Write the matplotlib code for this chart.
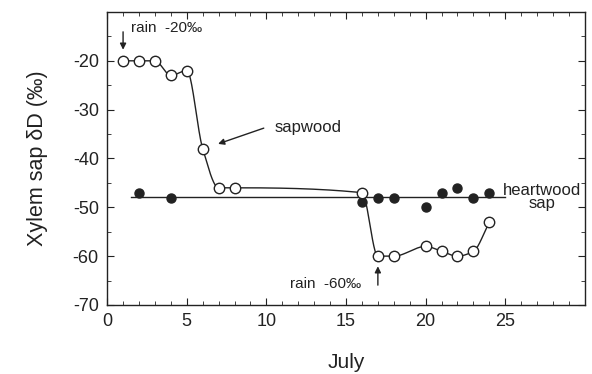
#!/usr/bin/env python3
# Xylem sap dD after two rain events (sapwood vs heartwood)

import numpy as np
import matplotlib.pyplot as plt
from matplotlib.ticker import MultipleLocator

plt.rcParams['font.family'] = ['Liberation Sans', 'DejaVu Sans']
plt.rcParams['axes.unicode_minus'] = False

# sapwood sap (open circles)
sap_day = [1, 2, 3, 4, 5, 6, 7, 8, 16, 17, 18, 20, 21, 22, 23, 24]
sap_dD = [-20, -20, -20, -23, -22, -38, -46, -46, -47, -60, -60, -58, -59, -60, -59, -53]

# heartwood sap (filled circles)
heart_day = [2, 4, 16, 17, 18, 20, 21, 22, 23, 24]
heart_dD = [-47, -48, -49, -48, -48, -50, -47, -46, -48, -47]

x_ticks = [0, 5, 10, 15, 20, 25]
y_ticks = [-70, -60, -50, -40, -30, -20]


def pchip_line(x, y, n=40):
    """Monotone cubic curve through the points, only for drawing the line."""
    x = np.asarray(x, float)
    y = np.asarray(y, float)
    h = np.diff(x)
    d = np.diff(y) / h
    m = np.zeros_like(y)
    for k in range(1, len(x) - 1):
        if d[k - 1] * d[k] > 0:
            w1 = 2 * h[k] + h[k - 1]
            w2 = h[k] + 2 * h[k - 1]
            m[k] = (w1 + w2) / (w1 / d[k - 1] + w2 / d[k])
    m[0] = d[0]
    m[-1] = d[-1]
    xs, ys = [], []
    for k in range(len(x) - 1):
        t = np.linspace(0, 1, n)
        h00 = 2 * t**3 - 3 * t**2 + 1
        h10 = t**3 - 2 * t**2 + t
        h01 = -2 * t**3 + 3 * t**2
        h11 = t**3 - t**2
        xs.append(x[k] + t * h[k])
        ys.append(h00 * y[k] + h10 * h[k] * m[k] + h01 * y[k + 1] + h11 * h[k] * m[k + 1])
    return np.concatenate(xs), np.concatenate(ys)


fig = plt.figure(figsize=(5.92, 3.74), dpi=100)
ax = fig.add_axes([0.181, 0.1845, 0.807, 0.7835])

ink = '#222222'

# heartwood mean line
hw_mean = np.mean(heart_dD)
ax.plot([1.5, 25.0], [hw_mean, hw_mean], color=ink, lw=1.0, zorder=1)
ax.plot(heart_day, heart_dD, 'o', color=ink, ms=6.5, zorder=3)

# sapwood curve
cx, cy = pchip_line(sap_day, sap_dD)
ax.plot(cx, cy, color=ink, lw=1.0, zorder=2)
ax.plot(sap_day, sap_dD, 'o', mfc='white', mec=ink, mew=1.0, ms=7.5, zorder=4)

# annotations
ax.annotate('', xy=(1, -18.3), xytext=(1, -13.5),
            arrowprops=dict(arrowstyle='-|>', color=ink, lw=1.0, mutation_scale=9))
ax.text(1.5, -13.3, 'rain  -20‰', fontsize=11, color=ink, va='center')

ax.annotate('', xy=(6.8, -37.2), xytext=(10.0, -33.6),
            arrowprops=dict(arrowstyle='-|>', color=ink, lw=1.0, mutation_scale=9))
ax.text(10.5, -33.6, 'sapwood', fontsize=12, color=ink, va='center')

ax.annotate('', xy=(17, -61.5), xytext=(17, -66.5),
            arrowprops=dict(arrowstyle='-|>', color=ink, lw=1.0, mutation_scale=9))
ax.text(11.5, -65.7, 'rain  -60‰', fontsize=11, color=ink, va='center')

ax.text(27.3, -47.9, 'heartwood\nsap', fontsize=12, color=ink, ha='center',
        va='center', linespacing=0.85)

# axes
ax.set_xlim(0, 30)
ax.set_ylim(-70, -10)
ax.set_xticks(x_ticks)
ax.set_yticks(y_ticks)
ax.xaxis.set_minor_locator(MultipleLocator(1))
ax.yaxis.set_minor_locator(MultipleLocator(5))
ax.tick_params(which='both', direction='in', top=True, right=True, color=ink)
ax.tick_params(which='major', length=5, labelsize=13, labelcolor=ink, pad=6)
ax.tick_params(which='minor', length=3)
for sp in ax.spines.values():
    sp.set_color(ink)
    sp.set_linewidth(1.0)

ax.set_xlabel('July', fontsize=15, color=ink, labelpad=16)
ax.set_ylabel('Xylem sap δD (‰)', fontsize=15.5, color=ink, labelpad=18)

fig.savefig('out.png', dpi=100)
